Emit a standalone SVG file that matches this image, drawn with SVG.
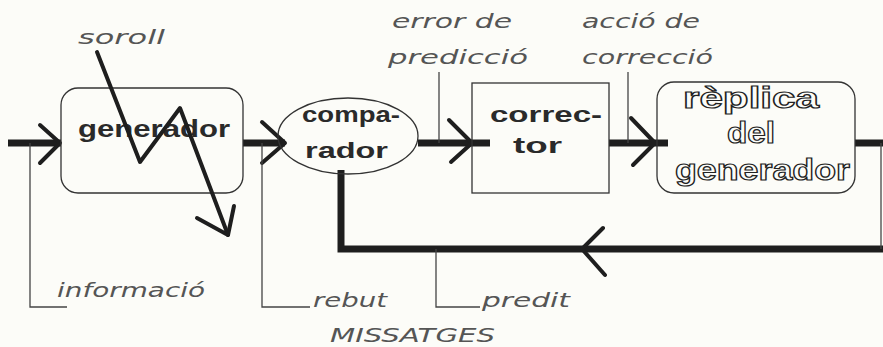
<svg xmlns="http://www.w3.org/2000/svg" width="883" height="347" viewBox="0 0 883 347">
  <style>
    .bg { fill: #fcfcf8; }
    .box { fill: none; stroke: #333; stroke-width: 1.3; }
    .thick { fill: none; stroke: #1e1e1e; stroke-width: 7; stroke-linejoin: miter; }
    .chev { fill: none; stroke: #1e1e1e; stroke-width: 4; stroke-linecap: round; stroke-linejoin: round; }
    .thin { fill: none; stroke: #444; stroke-width: 1.3; }
    .node { font-family: "Liberation Sans", Arial, sans-serif; font-weight: bold; fill: #2a2a2a; }
    .hollow { font-family: "Liberation Sans", Arial, sans-serif; font-weight: bold; fill: #fcfcf8; stroke: #222; stroke-width: 1.2; }
    .lbl { font-family: "DejaVu Sans", "Liberation Sans", sans-serif; font-weight: 200; font-style: italic; fill: #555; font-size: 20px; }
  </style>
  <rect class="bg" x="0" y="0" width="883" height="347"/>

  <!-- connectors -->
  <g id="connectors">
    <!-- main forward path -->
    <line class="thick" x1="8" y1="143" x2="61" y2="143"/>
    <line class="thick" x1="243" y1="143" x2="285" y2="143"/>
    <line class="thick" x1="418" y1="143" x2="490" y2="143"/>
    <line class="thick" x1="609" y1="143" x2="668" y2="143"/>
    <line class="thick" x1="855" y1="143" x2="883" y2="143"/>
    <!-- feedback path -->
    <polyline class="thick" points="883,249 341,249 341,170"/>
    <line class="thin" x1="881" y1="143" x2="881" y2="249"/>
    <!-- arrowheads -->
    <polyline class="chev" points="40,125 60,143 40,163"/>
    <polyline class="chev" points="262,122 285,143 262,163"/>
    <polyline class="chev" points="449,120 472,143 451,162"/>
    <polyline class="chev" points="631,118 655,143 633,165"/>
    <polyline class="chev" points="603,228 582,249 605,275"/>
    <!-- label leaders -->
    <polyline class="thin" points="30,143 30,307 67,307"/>
    <polyline class="thin" points="262,143 262,307 310,307"/>
    <polyline class="thin" points="436,249 436,307 480,307"/>
    <line class="thin" x1="439" y1="72" x2="439" y2="143"/>
    <line class="thin" x1="628" y1="72" x2="628" y2="143"/>
  </g>

  <g id="generador">
    <rect class="box" x="61" y="88" width="182" height="105" rx="17"/>
    <text class="node" x="78" y="137" font-size="24" textLength="152" lengthAdjust="spacingAndGlyphs">generador</text>
  </g>

  <g id="comparador">
    <ellipse class="box" cx="348" cy="136" rx="70" ry="38"/>
    <text class="node" x="302" y="122" font-size="22" textLength="98" lengthAdjust="spacingAndGlyphs">compa-</text>
    <text class="node" x="305" y="158" font-size="22" textLength="83" lengthAdjust="spacingAndGlyphs">rador</text>
  </g>

  <g id="corrector">
    <rect class="box" x="472" y="83" width="137" height="110"/>
    <text class="node" x="490" y="122" font-size="22" textLength="112" lengthAdjust="spacingAndGlyphs">correc-</text>
    <text class="node" x="513" y="153" font-size="22" textLength="49" lengthAdjust="spacingAndGlyphs">tor</text>
  </g>

  <g id="replica">
    <rect class="box" x="657" y="82" width="198" height="111" rx="17"/>
    <text class="hollow" x="683" y="108" font-size="30" textLength="136" lengthAdjust="spacingAndGlyphs">rèplica</text>
    <text class="hollow" x="727" y="143" font-size="30" textLength="48" lengthAdjust="spacingAndGlyphs">del</text>
    <text class="hollow" x="675" y="180" font-size="30" textLength="175" lengthAdjust="spacingAndGlyphs">generador</text>
  </g>

  <!-- noise input -->
  <g id="soroll">
    <text class="lbl" x="78" y="44" textLength="87" lengthAdjust="spacingAndGlyphs">soroll</text>
    <polyline class="chev" points="97,52 140,162 180,108 228,235"/>
    <polyline class="chev" points="197,218 228,235 234,206"/>
  </g>

  <!-- labels -->
  <g id="labels">
    <text class="lbl" x="392" y="28" textLength="120" lengthAdjust="spacingAndGlyphs">error de</text>
    <text class="lbl" x="388" y="64" textLength="140" lengthAdjust="spacingAndGlyphs">predicció</text>
    <text class="lbl" x="582" y="28" textLength="118" lengthAdjust="spacingAndGlyphs">acció de</text>
    <text class="lbl" x="582" y="64" textLength="131" lengthAdjust="spacingAndGlyphs">correcció</text>
    <text class="lbl" x="57" y="297" textLength="148" lengthAdjust="spacingAndGlyphs">informació</text>
    <text class="lbl" x="313" y="307" textLength="74" lengthAdjust="spacingAndGlyphs">rebut</text>
    <text class="lbl" x="482" y="307" textLength="88" lengthAdjust="spacingAndGlyphs">predit</text>
    <text class="lbl" x="330" y="342" font-size="20" textLength="165" lengthAdjust="spacingAndGlyphs">MISSATGES</text>
  </g>
</svg>
